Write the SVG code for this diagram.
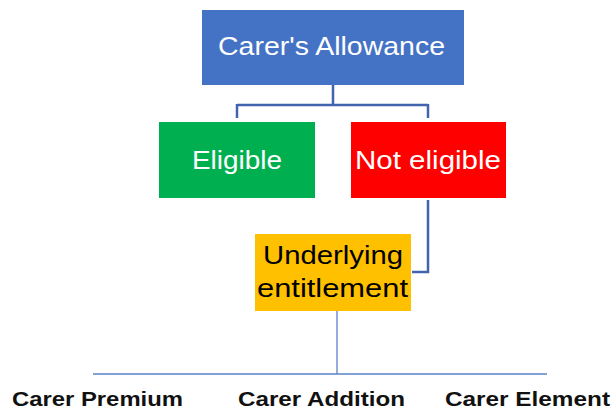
<svg xmlns="http://www.w3.org/2000/svg" width="612" height="412" viewBox="0 0 612 412">
  <style>
    .lbl { font-family: "Liberation Sans", Arial, sans-serif; font-size: 26px; }
    .white { fill: #ffffff; }
    .black { fill: #000000; }
    .bold { font-family: "Liberation Sans", Arial, sans-serif; font-size: 21px; font-weight: bold; fill: #111111; }
    .conn { fill: none; stroke: #4263AE; stroke-width: 2.5; }
    .thin { fill: none; stroke: #5B82C8; stroke-width: 1.3; }
  </style>
  <rect width="612" height="412" fill="#ffffff"/>

  <g id="connectors">
    <path class="conn" d="M333 85 V105 M237 105 H428 M237 104 V118 M428 104 V118"/>
    <path class="conn" d="M428 200 V272 H412"/>
    <path class="thin" d="M337 311 V374 M93 374 H547"/>
  </g>

  <g id="carers-allowance">
    <rect x="202" y="10" width="262" height="75" fill="#4472C4"/>
    <text class="lbl white" x="218" y="55" textLength="227" lengthAdjust="spacingAndGlyphs">Carer's Allowance</text>
  </g>

  <g id="eligible">
    <rect x="159" y="122" width="156" height="76" fill="#00B050"/>
    <text class="lbl white" x="192" y="169" textLength="90" lengthAdjust="spacingAndGlyphs">Eligible</text>
  </g>

  <g id="not-eligible">
    <rect x="351" y="122" width="155" height="76" fill="#FF0000"/>
    <text class="lbl white" x="355" y="169" textLength="146" lengthAdjust="spacingAndGlyphs">Not eligible</text>
  </g>

  <g id="underlying-entitlement">
    <rect x="255" y="234" width="156" height="77" fill="#FFC000"/>
    <text class="lbl black" x="263" y="264" textLength="140" lengthAdjust="spacingAndGlyphs">Underlying</text>
    <text class="lbl black" x="257" y="297" textLength="151" lengthAdjust="spacingAndGlyphs">entitlement</text>
  </g>

  <g id="carer-premium">
    <text class="bold" x="12" y="406" textLength="171" lengthAdjust="spacingAndGlyphs">Carer Premium</text>
  </g>
  <g id="carer-addition">
    <text class="bold" x="238" y="406" textLength="167" lengthAdjust="spacingAndGlyphs">Carer Addition</text>
  </g>
  <g id="carer-element">
    <text class="bold" x="445" y="406" textLength="165" lengthAdjust="spacingAndGlyphs">Carer Element</text>
  </g>
</svg>
